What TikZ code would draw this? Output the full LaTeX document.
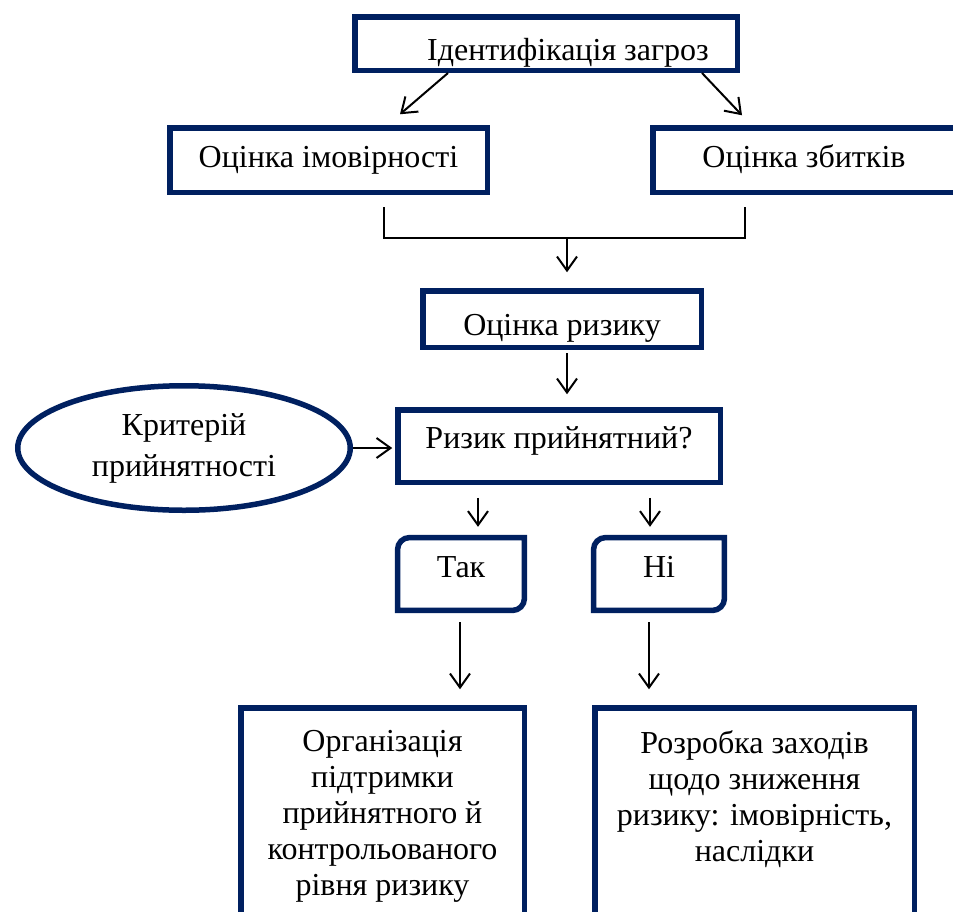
\documentclass[tikz,border=0pt]{standalone}
\usepackage{fontspec}
\setmainfont{Liberation Serif}
\usetikzlibrary{arrows.meta,shapes.geometric,calc}
\definecolor{navy}{RGB}{0,32,96}
\begin{document}
\begin{tikzpicture}[x=1pt,y=-1pt,
  boxline/.style={draw=navy,line width=5.5pt},
  stepbox/.style={boxline,rectangle,inner sep=0pt,text depth=0pt,
    font=\fontsize{32pt}{36pt}\selectfont},
  txt/.style={inner sep=0pt,align=center,font=\fontsize{32pt}{36pt}\selectfont},
  arr/.style={draw=black,line width=2pt,-{Straight Barb[length=14pt,width=20pt,line width=2pt]}},
  conn/.style={draw=black,line width=2pt}]
\useasboundingbox (0,0) rectangle (953,911);
\clip (0,0) rectangle (953,911);

% boxes
\node[stepbox,minimum width=382.5pt,minimum height=53.5pt,text height=33pt] (top) at (546,43.5) {\hspace*{44pt}Ідентифікація загроз};
\node[stepbox,minimum width=317.5pt,minimum height=64.5pt,text height=14pt] (prob) at (328.5,160) {Оцінка імовірності};
\node[stepbox,minimum width=302.5pt,minimum height=64.5pt,text height=14pt] (dmg) at (804,160) {Оцінка збитків};
\node[stepbox,minimum width=278.5pt,minimum height=56.5pt,text height=32pt] (risk) at (562,319) {Оцінка ризику};
\node[stepbox,minimum width=322.5pt,minimum height=72.5pt,text height=4pt] (acc) at (559,446) {Ризик прийнятний?};
\node[boxline,ellipse,inner sep=0pt,minimum width=332.5pt,minimum height=124.5pt,align=center,
  font=\fontsize{32pt}{41pt}\selectfont] (crit) at (184,448) {Критерій\\прийнятності};

% Так / Ні boxes with two rounded corners
\node[rectangle,inner sep=0pt,minimum width=126.5pt,minimum height=72.5pt,text height=6pt,text depth=0pt,
  font=\fontsize{32pt}{36pt}\selectfont] (tak) at (461,574) {Так};
\node[rectangle,inner sep=0pt,minimum width=130.5pt,minimum height=72.5pt,text height=6pt,text depth=0pt,
  font=\fontsize{32pt}{36pt}\selectfont] (ni) at (659,574) {Ні};
\foreach \n in {tak,ni}{
  \draw[boxline,line join=miter] (\n.west)
    [rounded corners=12pt] -- (\n.north west) -- (\n.north)
    [sharp corners] -- (\n.north east) -- (\n.east)
    [rounded corners=12pt] -- (\n.south east) -- (\n.south)
    [sharp corners] -- (\n.south west) -- cycle;
}

\node[stepbox,minimum width=283.5pt,minimum height=216.5pt] (orgbox) at (382.5,816) {};
\node[stepbox,minimum width=319.5pt,minimum height=216.5pt] (devbox) at (754.5,816) {};
\node[txt,anchor=north] (orgtxt) at (382.5,730) {Організація\\підтримки\\прийнятного й\\контрольованого\\рівня ризику};
\node[txt,anchor=north] (devtxt) at (754.5,730) {Розробка заходів\\щодо зниження\\ризику: імовірність,\\наслідки};

% connectors
\draw[arr] ([xshift=-98pt]top.south) -- ([xshift=71.5pt,yshift=10.75pt]prob.north);
\draw[arr] ([xshift=156pt]top.south) -- ([xshift=-62pt,yshift=9.75pt]dmg.north);

\coordinate (bl1) at (384,207);
\coordinate (bl2) at (384,238);
\coordinate (br2) at (745,238);
\coordinate (br1) at (745,207);
\coordinate (bm) at (567,238);
\draw[conn] (bl1) -- (bl2) -- (br2) -- (br1);
\draw[arr] (bm) -- ([xshift=5pt,yshift=15.75pt]risk.north);

\draw[arr] ([xshift=5pt,yshift=-3pt]risk.south) -- ([xshift=8pt,yshift=12.75pt]acc.north);
\draw[arr,shorten >=2.75pt] (crit.east) -- (crit.east -| acc.west);

\draw[arr] ([xshift=-81pt,yshift=-12.75pt]acc.south) -- ([xshift=17pt,yshift=10.75pt]tak.north);
\draw[arr] ([xshift=91pt,yshift=-12.75pt]acc.south) -- ([xshift=-9pt,yshift=10.75pt]ni.north);

\draw[arr] ([xshift=-1pt,yshift=-11.75pt]tak.south) -- ([xshift=77.5pt,yshift=15.75pt]orgbox.north);
\draw[arr] ([xshift=-10pt,yshift=-11.75pt]ni.south) -- ([xshift=-105.5pt,yshift=15.75pt]devbox.north);
\end{tikzpicture}
\end{document}
